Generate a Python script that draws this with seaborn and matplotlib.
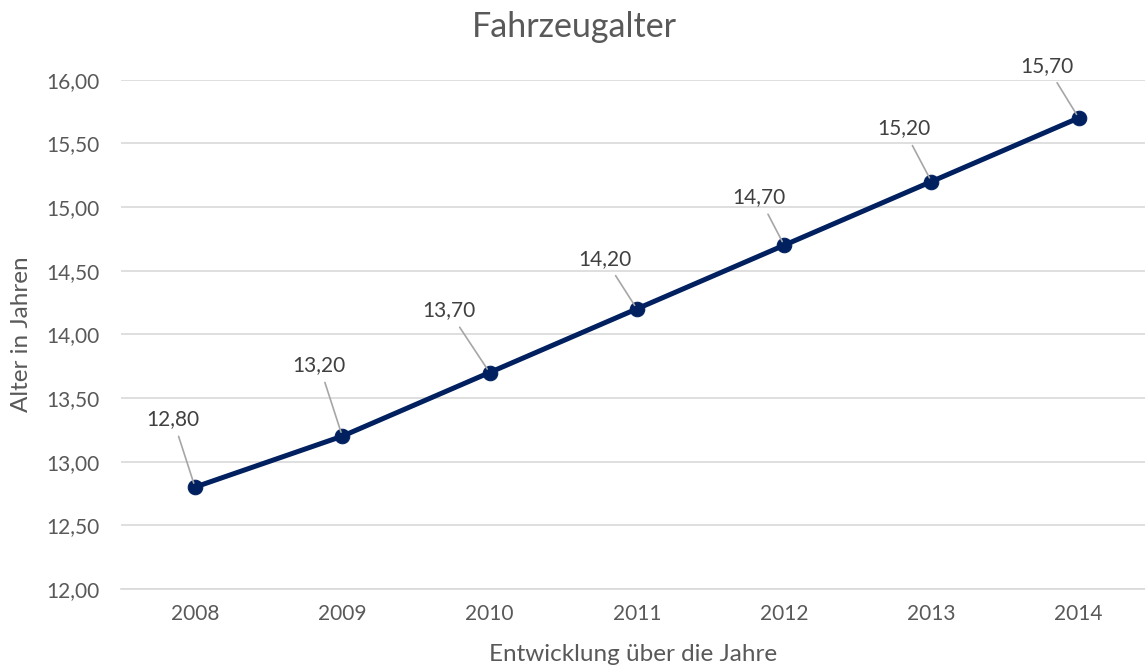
import matplotlib
matplotlib.use("Agg")
import matplotlib.pyplot as plt
import seaborn as sns
import pandas as pd
from matplotlib.ticker import FuncFormatter

years = ["2008", "2009", "2010", "2011", "2012", "2013", "2014"]
values = [12.80, 13.20, 13.70, 14.20, 14.70, 15.20, 15.70]
label_offsets = [(-22, 68), (-23, 71), (-41, 62), (-32, 50), (-25, 48), (-28, 53), (-32, 52)]

sns.set_theme(style="white")
plt.rcParams['font.family'] = ['Lato', 'DejaVu Sans']

text_col = "#595959"
label_col = "#404040"
line_col = "#002060"

fig = plt.figure(figsize=(11.45, 6.7), dpi=100)
ax = fig.add_axes([0.106, 0.121, 0.894, 0.760])

df = pd.DataFrame({"Jahr": years, "Alter": values})
sns.lineplot(data=df, x="Jahr", y="Alter", ax=ax, color=line_col, linewidth=3.6,
             marker="o", markersize=10.5, markeredgecolor=line_col, sort=False, zorder=3)

ax.set_ylim(12, 16)
ax.set_xlim(-0.5, 6.45)
ax.set_yticks([12 + 0.5 * i for i in range(9)])
ax.yaxis.set_major_formatter(FuncFormatter(lambda v, p: f"{v:.2f}".replace(".", ",")))
ax.grid(axis="y", color="#d9d9d9", linewidth=1.2)
ax.grid(axis="x", visible=False)
ax.set_axisbelow(True)
for s in ax.spines.values():
    s.set_visible(False)
ax.spines["bottom"].set_visible(True)
ax.spines["bottom"].set_color("#d9d9d9")
ax.spines["bottom"].set_linewidth(1.2)
ax.tick_params(axis="both", length=0, labelsize=15, labelcolor=text_col)
ax.tick_params(axis="x", pad=11)
ax.tick_params(axis="y", pad=16)

for i, (v, off) in enumerate(zip(values, label_offsets)):
    ax.annotate(f"{v:.2f}".replace(".", ","), xy=(i, v), xytext=off,
                textcoords="offset pixels", ha="center", va="center",
                fontsize=15, color=label_col,
                arrowprops=dict(arrowstyle="-", color="#a6a6a6", linewidth=1.2,
                                shrinkA=3, shrinkB=3))

ax.set_xlabel("Entwicklung über die Jahre", fontsize=17.5, color=text_col)
ax.set_ylabel("Alter in Jahren", fontsize=17.5, color=text_col)
ax.xaxis.label.set_va("center")
ax.yaxis.label.set_va("center")
ax.xaxis.set_label_coords(0.5, (589 - 655) / 509.0)
ax.yaxis.set_label_coords((22 - 121.4) / 1023.6, 0.5)
fig.text(0.502, 1 - 27 / 670, "Fahrzeugalter", ha="center", va="center", fontsize=24.5, color=text_col)

fig.savefig("out.png", dpi=100)
